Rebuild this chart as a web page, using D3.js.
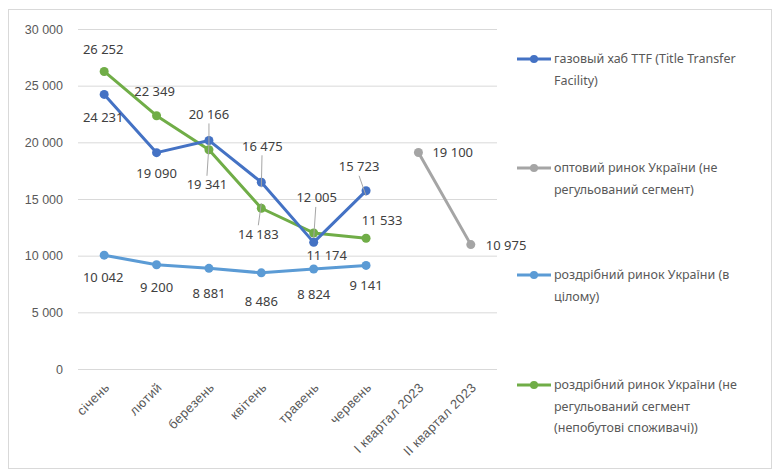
<!DOCTYPE html>
<html>
<head>
<meta charset="utf-8">
<script src="https://cdn.jsdelivr.net/npm/d3@7"></script>
<style>
  html, body { margin: 0; padding: 0; background: #fff; }
  svg { display: block; font-family: "Noto Sans", "Open Sans", sans-serif; }
</style>
</head>
<body>
<svg id="chart" width="779" height="471"></svg>
<script>
// ---- data ----
const categories = ["січень", "лютий", "березень", "квітень", "травень", "червень", "І квартал 2023", "ІІ квартал 2023"];
const ttfValues = [24231, 19090, 20166, 16475, 11174, 15723, null, null];
const wholesaleValues = [null, null, null, null, null, null, 19100, 10975];
const retailValues = [10042, 9200, 8881, 8486, 8824, 9141, null, null];
const retailNonRegValues = [26252, 22349, 19341, 14183, 12005, 11533, null, null];
const yTicks = [0, 5000, 10000, 15000, 20000, 25000, 30000];
const seriesNames = [
  ["газовый хаб TTF (Title Transfer", "Facility)"],
  ["оптовий ринок України (не", "регульований сегмент)"],
  ["роздрібний ринок України (в", "цілому)"],
  ["роздрібний ринок України (не", "регульований сегмент", "(непобутові споживачі))"]
];

// ---- layout / style ----
const colors = ["#4472C4", "#A5A5A5", "#5B9BD5", "#70AD47"];
// label offsets [dx, dy, anchor, leader]
const labelPos = [
  [[-1, 23, "middle"], [0, 21, "middle"], [0, -26, "middle", 1], [1, -36, "middle", 1], [13, 13, "middle"], [-7, -24, "middle", 1]],
  [null, null, null, null, null, null, [14, 0, "start"], [15, 1, "start"]],
  [[-1, 22, "middle"], [0, 23, "middle"], [0, 25, "middle"], [0, 29, "middle"], [0, 25, "middle"], [0, 20, "middle"]],
  [[-1, -22, "middle"], [-2, -24, "middle"], [-2, 35, "middle", 1], [-3, 26, "middle", 1], [3, -35, "middle", 1], [16, -18, "middle"]]
];
const allSeries = [ttfValues, wholesaleValues, retailValues, retailNonRegValues];
const drawOrder = [2, 1, 3, 0];

const svg = d3.select("#chart");
const plot = { left: 78, right: 497, top: 29, bottom: 369 };

svg.append("rect").attr("x", 8.5).attr("y", 9.5).attr("width", 763).attr("height", 459)
  .attr("fill", "#fff").attr("stroke", "#D9D9D9").attr("stroke-width", 1);

const x = d3.scaleBand().domain(categories).range([plot.left, plot.right]);
const y = d3.scaleLinear().domain([0, 30000]).range([plot.bottom, plot.top]);
const cx = c => x(c) + x.bandwidth() / 2;
const fmt = v => d3.format(",")(v).replace(/,/g, " ");

// gridlines + y axis
const yAxis = d3.axisLeft(y).tickValues(yTicks).tickSize(-(plot.right - plot.left)).tickFormat(fmt);
const gy = svg.append("g").attr("transform", `translate(${plot.left},0)`).call(yAxis);
gy.select(".domain").remove();
gy.selectAll(".tick line").attr("stroke", "#D9D9D9").attr("stroke-width", 1);
gy.selectAll(".tick text").attr("x", -15).attr("fill", "#595959").style("font-size", "12.5px");

// x axis
const xAxis = d3.axisBottom(x).tickSize(0);
const gx = svg.append("g").attr("transform", `translate(0,${plot.bottom})`).call(xAxis);
gx.select(".domain").remove();
gx.selectAll(".tick text")
  .attr("fill", "#595959").style("font-size", "13px").style("letter-spacing", "0.4px")
  .attr("text-anchor", "end")
  .attr("transform", "translate(3,16) rotate(-45)")
  .attr("dy", "0.35em").attr("y", 0).attr("x", 0);

// lines
const line = d3.line().defined(d => d.v != null).x(d => cx(d.c)).y(d => y(d.v));
drawOrder.forEach(si => {
  const data = categories.map((c, i) => ({ c, v: allSeries[si][i], i }));
  const g = svg.append("g");
  g.append("path").datum(data).attr("d", line).attr("fill", "none")
    .attr("stroke", colors[si]).attr("stroke-width", 3).attr("stroke-linejoin", "round").attr("stroke-linecap", "round");
  g.selectAll("circle").data(data.filter(d => d.v != null)).join("circle")
    .attr("cx", d => cx(d.c)).attr("cy", d => y(d.v)).attr("r", 4.5).attr("fill", colors[si]);
});

// data labels
allSeries.forEach((vals, si) => {
  categories.forEach((c, i) => {
    const v = vals[i];
    if (v == null) return;
    const p = labelPos[si][i];
    const px = cx(c), py = y(v);
    const lx = px + p[0], ly = py + p[1];
    if (p[3]) {
      const dir = p[1] < 0 ? 1 : -1;
      svg.append("line").attr("x1", lx + (p[0] > 0 ? -p[0] * 0.3 : 0)).attr("y1", ly + dir * 9)
        .attr("x2", px).attr("y2", py + dir * 5)
        .attr("stroke", "#A6A6A6").attr("stroke-width", 1);
    }
    svg.append("text").attr("x", lx).attr("y", ly).attr("dy", "0.35em")
      .attr("text-anchor", p[2]).attr("fill", "#404040").style("font-size", "13px")
      .text(fmt(v));
  });
});

// legend
const legendY = [59, 168, 275, 385];
seriesNames.forEach((lines, si) => {
  const g = svg.append("g").attr("transform", `translate(0,${legendY[si]})`);
  g.append("line").attr("x1", 517).attr("x2", 551).attr("y1", 0).attr("y2", 0)
    .attr("stroke", colors[si]).attr("stroke-width", 3);
  g.append("circle").attr("cx", 534).attr("cy", 0).attr("r", 4).attr("fill", colors[si]);
  const t = g.append("text").attr("x", 554).attr("y", 0).attr("fill", "#595959").style("font-size", "12.5px");
  lines.forEach((ln, k) => {
    t.append("tspan").attr("x", 554).attr("y", k * 21.5).attr("dy", "0.35em").text(ln);
  });
});
</script>
</body>
</html>
